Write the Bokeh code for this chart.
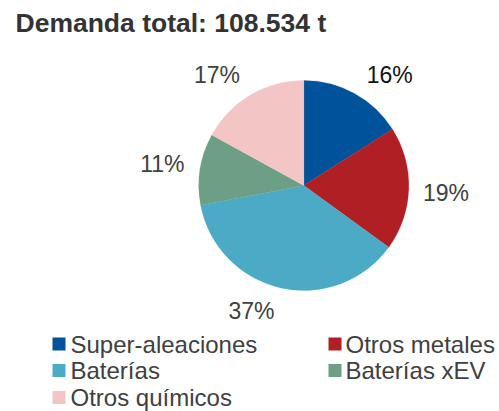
import math
from bokeh.plotting import figure
from bokeh.models import ColumnDataSource, Range1d, Label
from bokeh.core.properties import value
from bokeh.embed import file_html
from bokeh.resources import INLINE

# ---- data ----
title_text = "Demanda total: 108.534 t"
categories = ["Super-aleaciones", "Otros metales", "Baterías", "Baterías xEV", "Otros químicos"]
shares = [16, 19, 37, 11, 17]
colors = ["#00529B", "#B01F24", "#4BABC6", "#6D9F86", "#F4C5C5"]
label_colors = ["#111111", "#404040", "#404040", "#404040", "#404040"]
# small layout nudges (degrees) that mimic the label placement of the original
label_shift_deg = [9.0, 1.2, 10.0, -0.2, -7.6]

# ---- layout ----
W, H = 499, 411
FONT = "Liberation Sans"
cx, cy, R = 303.3, 226.0, 105.0
gap = 14.0
half_w, half_h = 23.0, 9.0

p = figure(width=W, height=H, output_backend="svg", toolbar_location=None,
           x_range=Range1d(0, W), y_range=Range1d(0, H), min_border=0,
           outline_line_color=None, background_fill_color="white",
           border_fill_color="white")
p.axis.visible = False
p.grid.visible = False

total = float(sum(shares))
starts, ends, lx, ly, labels = [], [], [], [], []
cum = 0.0
for s, shift in zip(shares, label_shift_deg):
    a0 = math.pi / 2 - 2 * math.pi * cum / total
    cum += s
    a1 = math.pi / 2 - 2 * math.pi * cum / total
    starts.append(a0)
    ends.append(a1)
    mid = (a0 + a1) / 2 - math.radians(shift)
    ux, uy = math.cos(mid), math.sin(mid)
    support = half_w * abs(ux) + half_h * abs(uy)
    d = R + gap + support
    lx.append(cx + d * ux)
    ly.append(cy + d * uy)
    labels.append(f"{s}%")

src = ColumnDataSource(dict(start=starts, end=ends, color=colors))
p.wedge(x=cx, y=cy, radius=R, start_angle="start", end_angle="end",
        direction="clock", fill_color="color", line_color="color",
        line_width=0.3, source=src)

lsrc = ColumnDataSource(dict(x=lx, y=ly, text=labels, color=label_colors))
p.text(x="x", y="y", text="text", source=lsrc, text_align="center",
       text_baseline="middle", text_font=value(FONT), text_font_size="23px",
       text_color="color")

# legend (row-major, two columns)
sq_x = [58.5, 334.5]
tx_x = [70.0, 345.0]
row_y = [67.5, 41.0, 14.0]
gx, gy, gtx, gty, gc = [], [], [], [], []
for i, (cat, col) in enumerate(zip(categories, colors)):
    r, c = divmod(i, 2)
    gx.append(sq_x[c]); gy.append(row_y[r]); gc.append(col)
    gtx.append(tx_x[c]); gty.append(row_y[r])
p.rect(x=gx, y=gy, width=13, height=13, fill_color=gc, line_color=None)
p.text(x=gtx, y=gty, text=categories, text_align="left", text_baseline="middle",
       text_font=value(FONT), text_font_size="24px", text_color="#404040")

p.add_layout(Label(x=15, y=389, text=title_text, text_font=FONT,
                   text_font_size="26.5px", text_font_style="bold",
                   text_color="#333333", text_baseline="alphabetic"))

open("out.html", "w").write(file_html(p, INLINE))
